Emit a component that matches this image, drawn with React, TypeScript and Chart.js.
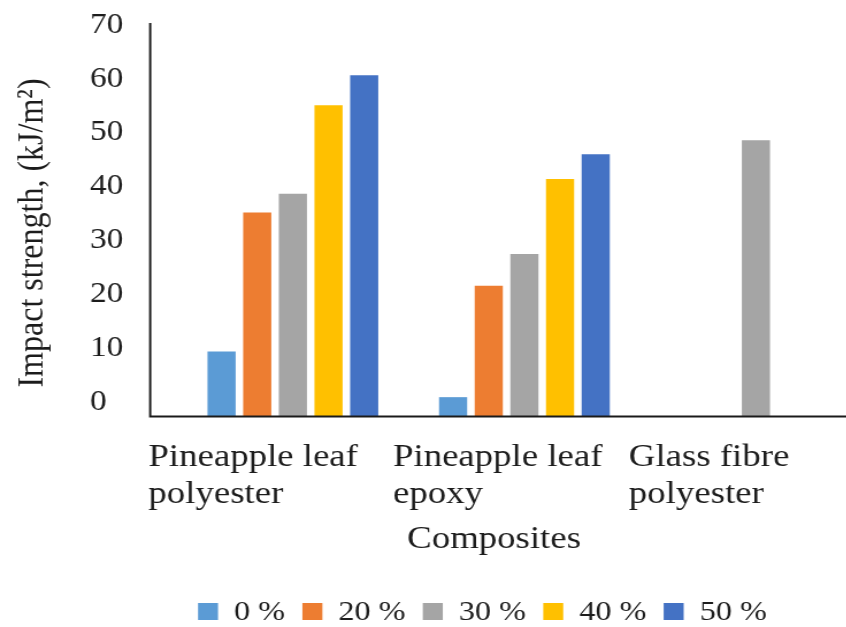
import React, { useEffect, useRef } from "react";
import { Chart, registerables } from "chart.js";

Chart.register(...registerables);

// ---------- data ----------
const CATEGORIES: string[][] = [
  ["Pineapple leaf", "polyester"],
  ["Pineapple leaf", "epoxy"],
  ["Glass fibre", "polyester"],
];
const SERIES_NAMES = ["0 %", "20 %", "30 %", "40 %", "50 %"];
const V_0 = [9.4, 0.9, null];
const V_20 = [35.2, 21.6, null];
const V_30 = [38.7, 27.5, 48.6];
const V_40 = [55.1, 41.4, null];
const V_50 = [60.7, 46.0, null];
const Y_TICKS = [0, 10, 20, 30, 40, 50, 60, 70];
const Y_TITLE = "Impact strength, (kJ/m\u00B2)";
const X_TITLE = "Composites";

// ---------- style ----------
const COLORS = ["#5B9BD5", "#ED7D31", "#A5A5A5", "#FFC000", "#4472C4"];
const SX = 1.15; // horizontal stretch of the whole picture
const W = 760;
const H = 627;
const Y_MIN = -2.6;
const Y_MAX = 70.4;
const SERIF = "'Liberation Serif', 'Times New Roman', serif";
const INK = "#1c1c1c";

const decor = {
  id: "decor",
  afterDraw(chart: any) {
    const { ctx, chartArea, scales } = chart;
    const xs = scales.x;
    ctx.save();

    // axis lines
    ctx.strokeStyle = "#1a1a1a";
    ctx.lineWidth = 1.9;
    const ax = 130.6;
    const by = chartArea.bottom + 0.5;
    ctx.beginPath();
    ctx.moveTo(ax, chartArea.top);
    ctx.lineTo(ax, by);
    ctx.lineTo(chart.width, by);
    ctx.stroke();

    ctx.fillStyle = INK;

    // y title
    ctx.save();
    ctx.font = `32px ${SERIF}`;
    ctx.translate(37.4, 233);
    ctx.rotate(-Math.PI / 2);
    ctx.textAlign = "center";
    ctx.textBaseline = "alphabetic";
    ctx.fillText(Y_TITLE, 0, 0);
    ctx.restore();

    // category labels
    ctx.font = `32px ${SERIF}`;
    ctx.textAlign = "left";
    ctx.textBaseline = "alphabetic";
    const offs = [-125.6, -114.3, -110.5];
    const lineY = [466, 503];
    (chart.data.labels as string[][]).forEach((lines, i) => {
      const cx = xs.getPixelForValue(i);
      lines.forEach((ln, j) => ctx.fillText(ln, cx + offs[i], lineY[j]));
    });

    // x title
    ctx.textAlign = "center";
    ctx.fillText(X_TITLE, 429.6, 548);

    // legend
    ctx.font = `28px ${SERIF}`;
    ctx.textAlign = "left";
    let lx = 172.2;
    chart.data.datasets.forEach((ds: any) => {
      ctx.fillStyle = ds.backgroundColor;
      ctx.fillRect(lx, 603, 17.4, 17);
      lx += 17.4 + 14;
      ctx.fillStyle = INK;
      ctx.fillText(ds.label, lx, 620);
      lx += ctx.measureText(ds.label).width + 15;
    });

    ctx.restore();
  },
};

export default function App() {
  const ref = useRef<HTMLCanvasElement>(null);

  useEffect(() => {
    document.documentElement.style.overflow = "hidden";
    document.body.style.overflow = "hidden";
    const values = [V_0, V_20, V_30, V_40, V_50];
    const chart = new Chart(ref.current as HTMLCanvasElement, {
      type: "bar",
      data: {
        labels: CATEGORIES as any,
        datasets: SERIES_NAMES.map((name, i) => ({
          label: name,
          data: values[i] as any,
          backgroundColor: COLORS[i],
          borderWidth: 0,
          base: Y_MIN,
          categoryPercentage: 0.77,
          barPercentage: 0.79,
        })) as any,
      },
      options: {
        animation: false,
        responsive: false,
        devicePixelRatio: 1,
        layout: { padding: { left: 78.3, right: 2, top: 23, bottom: 211 } },
        plugins: { legend: { display: false }, tooltip: { enabled: false } },
        scales: {
          x: { display: false, grid: { display: false } },
          y: {
            min: Y_MIN,
            max: Y_MAX,
            grid: { display: false },
            border: { display: false },
            afterBuildTicks: (s: any) => {
              s.ticks = Y_TICKS.map((v) => ({ value: v }));
            },
            afterFit: (s: any) => {
              s.width = 154 - 78.3;
            },
            ticks: {
              font: { family: SERIF, size: 29 },
              color: INK,
              padding: 0,
              crossAlign: "far",
              autoSkip: false,
            },
          },
        },
      } as any,
      plugins: [decor],
    });
    return () => chart.destroy();
  }, []);

  return (
    <div
      style={{
        position: "fixed",
        left: 0,
        top: 0,
        width: 846,
        height: 627,
        overflow: "hidden",
        background: "#fff",
      }}
    >
      <div
        style={{
          width: W,
          height: H,
          transform: `scaleX(${SX})`,
          transformOrigin: "0 0",
        }}
      >
        <canvas ref={ref} width={W} height={H} style={{ display: "block", width: W, height: H }} />
      </div>
    </div>
  );
}
